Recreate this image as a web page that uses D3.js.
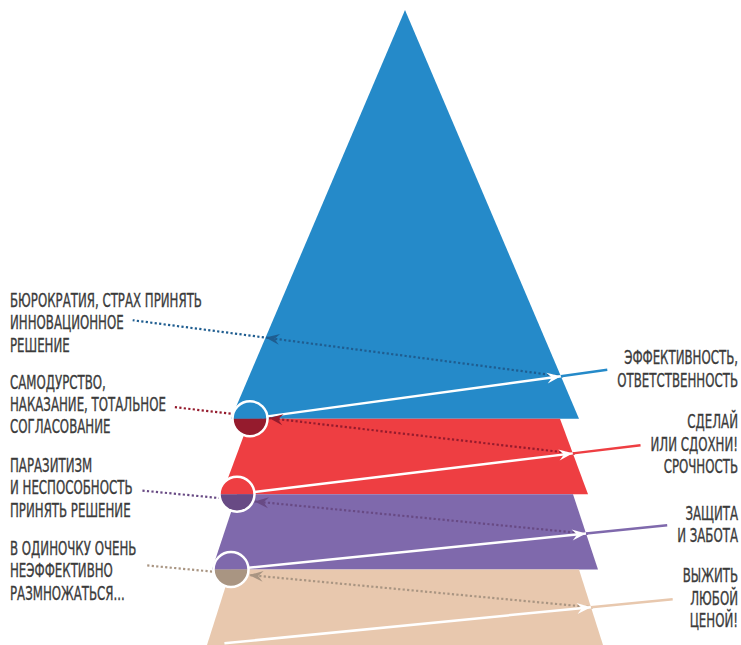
<!DOCTYPE html>
<html>
<head>
<meta charset="utf-8">
<script src="https://cdn.jsdelivr.net/npm/d3@7"></script>
<style>
    body { margin: 0; background: #fff; }
    svg { display: block; }
    text {
        font-family: "Liberation Sans Narrow", "DejaVu Sans Condensed", "Roboto", sans-serif;
        font-size: 19.5px;
        fill: #3b3b3b;
        stroke: #3b3b3b;
        stroke-width: 0.35px;
    }
</style>
</head>
<body>
<svg id="chart" width="741" height="645"></svg>
<script>
// pyramid levels, top to bottom
var levels = ["Эффективность", "Сделай или сдохни", "Защита", "Выжить"];
var levelTop = [8.42, 3, 2, 1];
var levelBottom = [3, 2, 1, 0];
var halfTop = [0, 155, 168, 174];
var halfBottom = [174, 183, 193, 198];

var rightLabels = [
    ["ЭФФЕКТИВНОСТЬ,", "ОТВЕТСТВЕННОСТЬ"],
    ["СДЕЛАЙ", "ИЛИ СДОХНИ!", "СРОЧНОСТЬ"],
    ["ЗАЩИТА", "И ЗАБОТА"],
    ["ВЫЖИТЬ", "ЛЮБОЙ", "ЦЕНОЙ!"]
];
var leftLabels = [
    ["БЮРОКРАТИЯ, СТРАХ ПРИНЯТЬ", "ИННОВАЦИОННОЕ", "РЕШЕНИЕ"],
    ["САМОДУРСТВО,", "НАКАЗАНИЕ, ТОТАЛЬНОЕ", "СОГЛАСОВАНИЕ"],
    ["ПАРАЗИТИЗМ", "И НЕСПОСОБНОСТЬ", "ПРИНЯТЬ РЕШЕНИЕ"],
    ["В ОДИНОЧКУ ОЧЕНЬ", "НЕЭФФЕКТИВНО", "РАЗМНОЖАТЬСЯ..."]
];

var colors = ["#258ac9", "#ee3e42", "#7f69ac", "#e8c8ae"];
var darkColors = ["#1f5d90", "#951b2d", "#684a84", "#a99582"];

var svg = d3.select("#chart");

var x = d3.scaleLinear().domain([-200, 200]).range([205, 605]);
var y = d3.scaleLinear().domain([0, 8.42]).range([645, 10]);

var radius = 17.5;
var leftX = 10, rightX = 738;
var leftBase = [307, 388.5, 472, 555], leftStep = 22.3;
var rightBase = [364, 428, 519.5, 582], rightStep = 22.6;

// squeeze the narrow font to the width of the condensed original
var probe = svg.append("text").text(leftLabels[0][0]);
var squeeze = 192 / probe.node().getComputedTextLength();
probe.remove();

var levelData = levels.map(function (name, i) {
    return {name: name, i: i, top: levelTop[i], bottom: levelBottom[i], ht: halfTop[i], hb: halfBottom[i]};
});

var gLayers = svg.append("g");
var gDots = svg.append("g");
var gLines = svg.append("g");
var gHeads = svg.append("g");
var gCircles = svg.append("g");
var gText = svg.append("g");

gLayers.selectAll("path")
    .data(levelData)
    .enter().append("path")
    .attr("d", function (d) {
        return "M" + x(-d.ht) + "," + y(d.top) +
            "L" + x(d.ht) + "," + y(d.top) +
            "L" + x(d.hb) + "," + y(d.bottom) +
            "L" + x(-d.hb) + "," + y(d.bottom) + "Z";
    })
    .attr("fill", function (d) { return colors[d.i]; });

// labels
var rightGroups = gText.selectAll("g.right")
    .data(rightLabels)
    .enter().append("g")
    .attr("class", "right");

rightGroups.selectAll("text")
    .data(function (d, i) { return d.map(function (t, j) { return {t: t, i: i, j: j}; }); })
    .enter().append("text")
    .attr("text-anchor", "end")
    .attr("transform", function (d) {
        return "translate(" + rightX + "," + (rightBase[d.i] + d.j * rightStep) + ") scale(" + squeeze + ",1)";
    })
    .text(function (d) { return d.t; });

var leftGroups = gText.selectAll("g.left")
    .data(leftLabels)
    .enter().append("g")
    .attr("class", "left");

leftGroups.selectAll("text")
    .data(function (d, i) { return d.map(function (t, j) { return {t: t, i: i, j: j}; }); })
    .enter().append("text")
    .attr("transform", function (d) {
        return "translate(" + leftX + "," + (leftBase[d.i] + d.j * leftStep) + ") scale(" + squeeze + ",1)";
    })
    .text(function (d) {
        d.base = leftBase[d.i] + d.j * leftStep;
        return d.t;
    })
    .each(function (d) {
        d.right = leftX + this.getComputedTextLength() * squeeze;
        d.mid = d.base - 6.5;
    });

function intersect(p1, p2, p3, p4) {
    var den = (p1[0] - p2[0]) * (p3[1] - p4[1]) - (p1[1] - p2[1]) * (p3[0] - p4[0]);
    var a = p1[0] * p2[1] - p1[1] * p2[0];
    var b = p3[0] * p4[1] - p3[1] * p4[0];
    return [
        (a * (p3[0] - p4[0]) - (p1[0] - p2[0]) * b) / den,
        (a * (p3[1] - p4[1]) - (p1[1] - p2[1]) * b) / den
    ];
}

function unit(a, b) {
    var dx = b[0] - a[0], dy = b[1] - a[1], l = Math.sqrt(dx * dx + dy * dy);
    return [dx / l, dy / l];
}

function corner(k) {
    // top-left corner of the level below k (or bottom-left of the last one)
    var h = k < levels.length - 1 ? halfTop[k + 1] : halfBottom[k];
    return [x(-h), y(levelBottom[k])];
}

var headPath = "M0,0L-14,-5.5L-9,0L-14,5.5Z";

levels.forEach(function (name, k) {
    var c = corner(k);
    var bb = rightGroups.nodes()[k].getBBox();
    var end = [bb.x - 10, bb.y + bb.height / 2 + 1];
    var dir = unit(c, end);
    var tip = intersect(c, end,
        [x(halfBottom[k]), y(levelBottom[k])], [x(halfTop[k]), y(levelTop[k])]);
    var start = [c[0] + dir[0] * radius, c[1] + dir[1] * radius];

    gLines.append("line")
        .attr("x1", start[0]).attr("y1", start[1])
        .attr("x2", tip[0]).attr("y2", tip[1])
        .attr("stroke", "#fff").attr("stroke-width", 2.5);

    gLines.append("line")
        .attr("x1", tip[0]).attr("y1", tip[1])
        .attr("x2", end[0]).attr("y2", end[1])
        .attr("stroke", colors[k]).attr("stroke-width", 2.5);

    gHeads.append("path")
        .attr("d", headPath)
        .attr("fill", "#fff")
        .attr("transform", "translate(" + tip[0] + "," + tip[1] + ") rotate(" + (Math.atan2(dir[1], dir[0]) * 180 / Math.PI) + ")");

    // dotted return line, mirrored slope
    var s = -(dir[1] / dir[0]) * 0.955;
    var dd = unit([0, 0], [-1, -s]);
    var back;
    if (k === 0) {
        back = intersect(tip, [tip[0] + dd[0], tip[1] + dd[1]],
            [x(-halfBottom[0]), y(levelBottom[0])], [x(-halfTop[0]), y(levelTop[0])]);
    } else {
        var cc = corner(k - 1);
        var fx = tip[0] - cc[0], fy = tip[1] - cc[1], rr = radius + 1.5;
        var bq = fx * dd[0] + fy * dd[1];
        var t = -bq - Math.sqrt(bq * bq - (fx * fx + fy * fy - rr * rr));
        back = [tip[0] + dd[0] * t, tip[1] + dd[1] * t];
    }

    var yAt = function (xq) { return tip[1] + s * (xq - tip[0]); };
    var near = leftGroups.nodes()[k];
    var xs = d3.max(d3.select(near).selectAll("text").data(), function (d) {
        return Math.abs(d.mid - yAt(150)) < 19.5 ? d.right : null;
    }) + 9;

    gDots.append("line")
        .attr("x1", tip[0] - dd[0] * 2).attr("y1", tip[1] - dd[1] * 2)
        .attr("x2", xs).attr("y2", yAt(xs))
        .attr("stroke", darkColors[k])
        .attr("stroke-width", 2.2)
        .attr("stroke-dasharray", "2.2,2.3");

    gHeads.append("path")
        .attr("d", headPath)
        .attr("fill", darkColors[k])
        .attr("transform", "translate(" + back[0] + "," + back[1] + ") rotate(" + (Math.atan2(dd[1], dd[0]) * 180 / Math.PI) + ")");
});

// split circles on the left corners
var arcTop = d3.arc().innerRadius(0).outerRadius(radius).startAngle(-Math.PI / 2).endAngle(Math.PI / 2);
var arcBottom = d3.arc().innerRadius(0).outerRadius(radius).startAngle(Math.PI / 2).endAngle(Math.PI * 1.5);

var circles = gCircles.selectAll("g")
    .data(d3.range(levels.length - 1))
    .enter().append("g")
    .attr("transform", function (k) { var c = corner(k); return "translate(" + c[0] + "," + c[1] + ")"; });

circles.append("path").attr("d", arcTop()).attr("fill", function (k) { return colors[k]; });
circles.append("path").attr("d", arcBottom()).attr("fill", function (k) { return darkColors[k + 1]; });
circles.append("circle")
    .attr("r", radius)
    .attr("fill", "none")
    .attr("stroke", "#fff")
    .attr("stroke-width", 2.5);
</script>
</body>
</html>
